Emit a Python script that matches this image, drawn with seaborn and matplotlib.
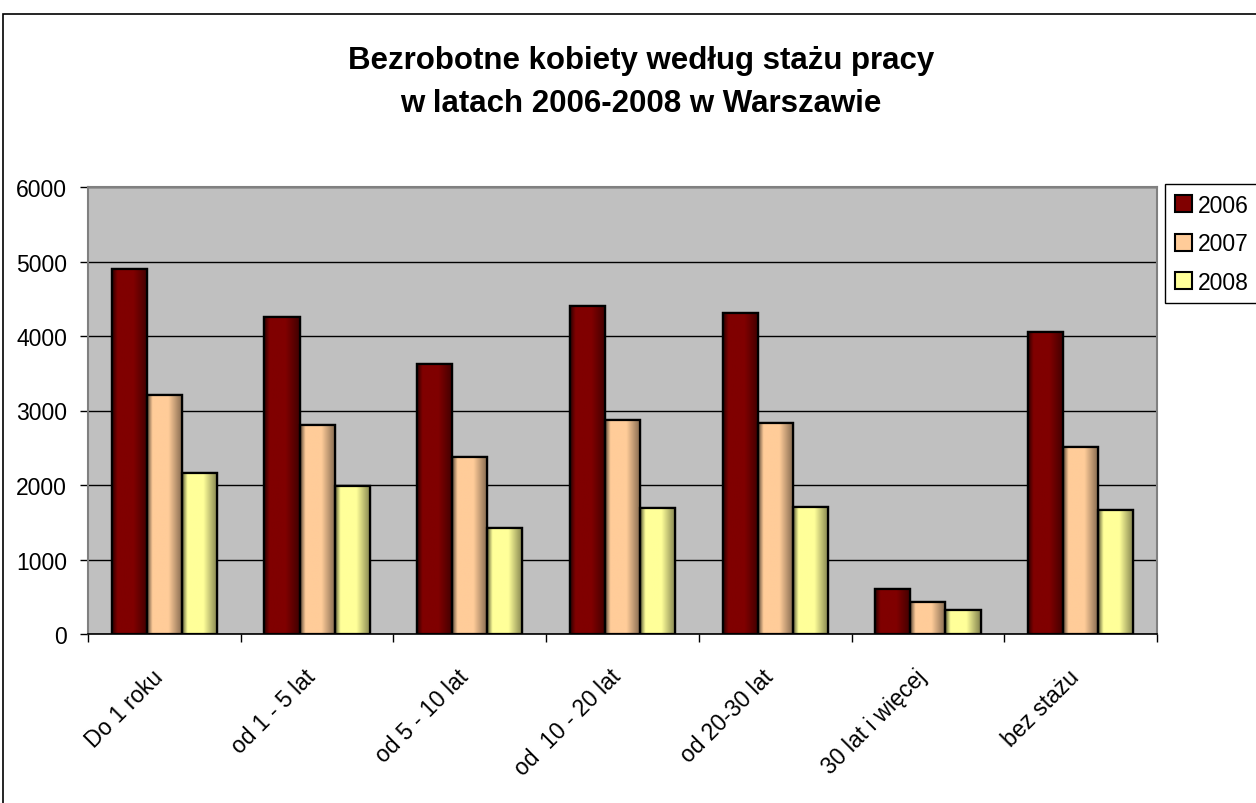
import numpy as np
import pandas as pd
import matplotlib
matplotlib.use("Agg")
import matplotlib.pyplot as plt
import seaborn as sns
from matplotlib.patches import Rectangle, Patch
from matplotlib.transforms import ScaledTranslation

categories = ["Do 1 roku", "od 1 - 5 lat", "od 5 - 10 lat", "od  10 - 20 lat",
              "od 20-30 lat", "30 lat i więcej", "bez stażu"]
years = ["2006", "2007", "2008"]
v2006 = [4900, 4250, 3620, 4400, 4315, 600, 4050]
v2007 = [3205, 2810, 2373, 2870, 2827, 430, 2510]
v2008 = [2160, 1990, 1417, 1696, 1698, 318, 1663]
colors = ["#800000", "#FFCC99", "#FFFF99"]
yticks = [0, 1000, 2000, 3000, 4000, 5000, 6000]
title1 = "Bezrobotne kobiety według stażu pracy"
title2 = "w latach 2006-2008 w Warszawie"

sns.set_theme(style="white")
plt.rcParams["font.family"] = ["Liberation Sans", "DejaVu Sans"]
plt.rcParams["text.color"] = "black"
plt.rcParams["xtick.labelcolor"] = "black"
plt.rcParams["ytick.labelcolor"] = "black"

W, H = 1256, 804
fig = plt.figure(figsize=(W / 100, H / 100), dpi=100)
ax = fig.add_axes([88 / W, 1 - 635 / H, (1157 - 88) / W, (635 - 188) / H])
ax.set_facecolor("#C0C0C0")

df = pd.DataFrame({
    "cat": categories * 3,
    "year": np.repeat(years, len(categories)),
    "value": v2006 + v2007 + v2008,
})
sns.barplot(data=df, x="cat", y="value", hue="year", palette=colors,
            width=0.69, edgecolor="black", linewidth=1.6, saturation=1,
            errorbar=None, legend=False, ax=ax)

# Excel-like horizontal gradient shading on each bar
t = np.linspace(0, 1, 80)
prof = np.ones_like(t)
left = t < 0.15
prof[left] = 0.35 + 0.65 * (t[left] / 0.15)
right = t > 0.6
prof[right] = 1 - 0.5 * ((t[right] - 0.6) / 0.4)
bars = list(ax.patches)
for p in bars:
    x0, y0, w, h = p.get_x(), p.get_y(), p.get_width(), p.get_height()
    c = np.array(p.get_facecolor()[:3])
    img = (c[None, None, :] * prof[None, :, None])
    im = ax.imshow(img, extent=[x0, x0 + w, y0, y0 + h], aspect="auto",
                   interpolation="bilinear", zorder=p.get_zorder() + 0.1)
    im.set_clip_path(p)
    ax.add_patch(Rectangle((x0, y0), w, h, fill=False, edgecolor="black",
                           linewidth=1.6, zorder=p.get_zorder() + 0.2))

ax.set_xlim(-0.5, len(categories) - 0.5)
ax.set_ylim(0, 6000)
ax.set_axisbelow(True)
ax.yaxis.grid(True, color="black", linewidth=1)
ax.xaxis.grid(False)

ax.set_yticks(yticks)
ax.set_yticklabels([str(v) for v in yticks])
ax.tick_params(axis="y", direction="out", length=6, width=1, color="black",
               labelsize=16.5, pad=9, left=True, labelcolor="black")
ax.set_xticks(range(len(categories)))
ax.set_xticklabels(categories, rotation=45, ha="right", va="center",
                   rotation_mode="anchor")
ax.set_xticks(np.arange(-0.5, len(categories), 1.0), minor=True)
ax.tick_params(axis="x", which="major", length=0, labelsize=16.5, pad=28,
               labelcolor="black")
ax.tick_params(axis="x", which="minor", direction="out", length=6, width=1,
               color="black", bottom=True)
shift = ScaledTranslation(-5 / 100, 0, fig.dpi_scale_trans)
for lab in ax.get_xticklabels():
    lab.set_transform(lab.get_transform() + shift)
ax.set_xlabel("")
ax.set_ylabel("")

for s in ["top", "right", "left"]:
    ax.spines[s].set_color("#808080")
    ax.spines[s].set_linewidth(1.5)
ax.spines["bottom"].set_color("black")
ax.spines["bottom"].set_linewidth(1.2)

handles = [Patch(facecolor=c, edgecolor="black", linewidth=1.5) for c in colors]
leg = fig.legend(handles, years, loc="upper left",
                 bbox_to_anchor=(1165 / W, 1 - 185 / H), borderaxespad=0,
                 frameon=True, fontsize=16.5, handlelength=0.74,
                 handleheight=0.74, handletextpad=0.28, labelspacing=0.68,
                 borderpad=0.42, fancybox=False, edgecolor="black",
                 framealpha=1)
leg.get_frame().set_linewidth(1)

fig.text(641 / W, 1 - 61 / H, title1, ha="center", va="center",
         fontsize=22.5, fontweight="bold")
fig.text(641 / W, 1 - 104 / H, title2, ha="center", va="center",
         fontsize=22.5, fontweight="bold")

fig.add_artist(Rectangle((3 / W, -0.5), 2, 1.5 - 15 / H, transform=fig.transFigure,
                         fill=False, edgecolor="black", linewidth=1.2))

fig.savefig("out.png", dpi=100)
